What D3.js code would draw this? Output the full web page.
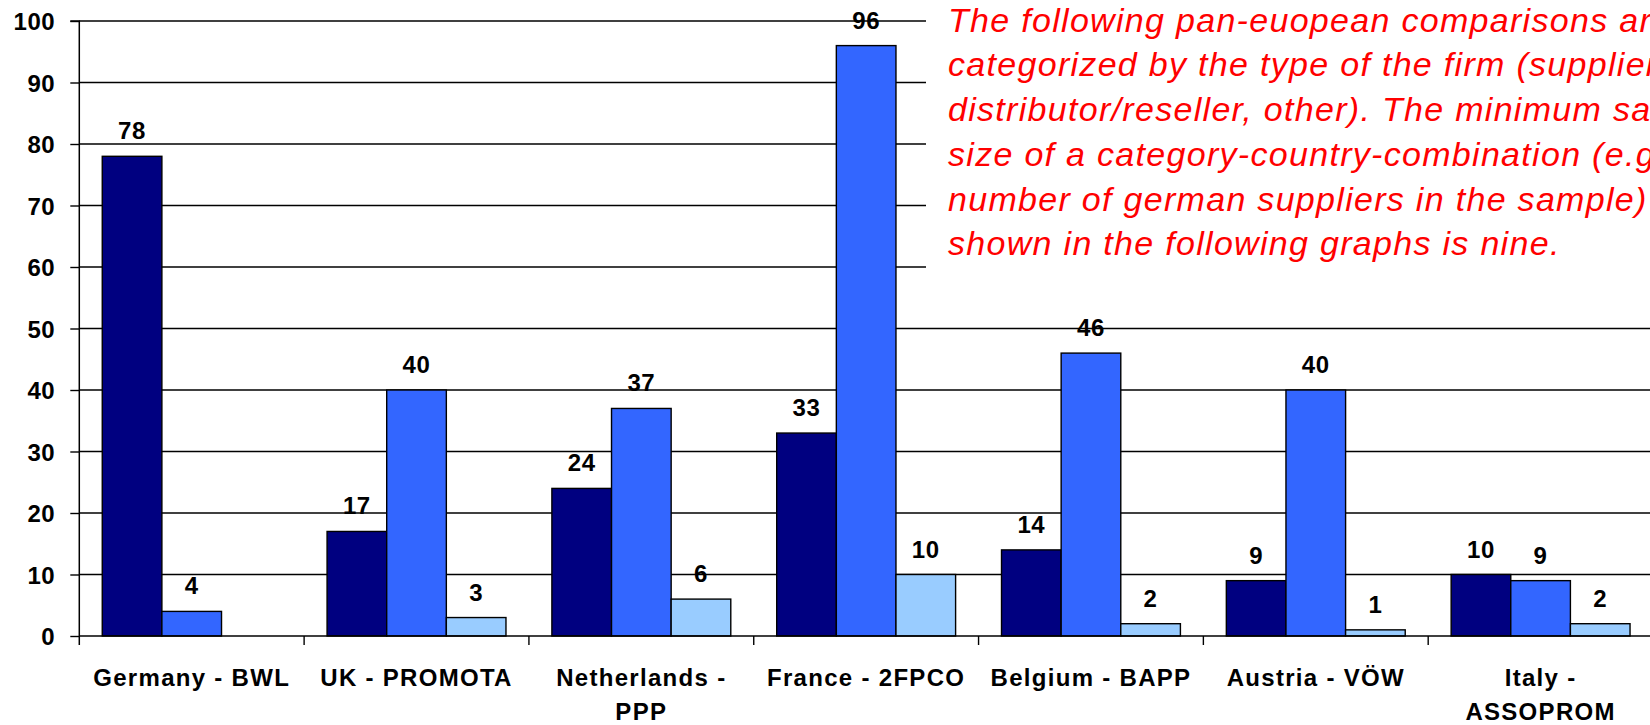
<!doctype html>
<html lang="en">

<head>
    <meta charset="UTF-8" />
    <title>Pan-European comparison</title>
    <script src="https://d3js.org/d3.v7.min.js"></script>
    <style>
        body,
        html {
            margin: 0;
            padding: 0;
            background: #ffffff;
            overflow: hidden;
        }

        svg {
            display: block;
        }

        .lbl {
            font-family: "Liberation Sans", Arial, sans-serif;
            font-weight: bold;
            font-size: 24px;
            fill: #000;
        }
    </style>
</head>

<body>
    <svg id="chart"></svg>
    <script>
        // chart values
        const categories = [
            ["Germany - BWL"],
            ["UK - PROMOTA"],
            ["Netherlands -", "PPP"],
            ["France - 2FPCO"],
            ["Belgium - BAPP"],
            ["Austria - VÖW"],
            ["Italy -", "ASSOPROM"]
        ];
        const suppliers = [78, 17, 24, 33, 14, 9, 10];
        const distributors = [4, 40, 37, 96, 46, 40, 9];
        const others = [null, 3, 6, 10, 2, 1, 2];
        const yTicks = [0, 10, 20, 30, 40, 50, 60, 70, 80, 90, 100];
        const noteLines = [
            "The following pan-euopean comparisons are",
            "categorized by the type of the firm (supplier,",
            "distributor/reseller, other). The minimum sample",
            "size of a category-country-combination (e.g.",
            "number of german suppliers in the sample)",
            "shown in the following graphs is nine."
        ];

        const width = 1650;
        const height = 725;
        const plotLeft = 79.3;
        const plotRight = 1653;
        const plotTop = 21;
        const plotBottom = 636;

        const svg = d3.select("#chart")
            .attr("width", width)
            .attr("height", height);

        const x = d3.scaleBand()
            .domain(d3.range(categories.length))
            .range([plotLeft, plotRight])
            .paddingInner(0)
            .paddingOuter(0);

        const barW = x.bandwidth() / 3.77;
        const groupOffset = (x.bandwidth() - barW * 3) / 2;

        const x1 = d3.scaleBand()
            .domain([0, 1, 2])
            .range([0, barW * 3]);

        const y = d3.scaleLinear().domain([0, 100]).range([plotBottom, plotTop]);

        const seriesColors = ["#000080", "#3366ff", "#99ccff"];
        const series = [suppliers, distributors, others];

        // gridlines
        svg.append("g")
            .selectAll("line")
            .data(yTicks.filter(d => d > 0))
            .join("line")
            .attr("x1", plotLeft)
            .attr("x2", width)
            .attr("y1", d => y(d))
            .attr("y2", d => y(d))
            .attr("stroke", "#000")
            .attr("stroke-width", 1.4);

        // bars
        series.forEach((vals, s) => {
            const data = vals.map((v, i) => ({ i, v })).filter(d => d.v != null);
            svg.append("g")
                .selectAll("rect")
                .data(data)
                .join("rect")
                .attr("x", d => x(d.i) + groupOffset + x1(s))
                .attr("y", d => y(d.v))
                .attr("width", x1.bandwidth())
                .attr("height", d => y(0) - y(d.v))
                .attr("fill", seriesColors[s])
                .attr("stroke", "#000")
                .attr("stroke-width", 1.4);
        });

        // y axis
        const yAxis = d3.axisLeft(y)
            .tickValues(yTicks)
            .tickSize(9)
            .tickPadding(15)
            .tickFormat(d3.format("d"));

        const gy = svg.append("g")
            .attr("transform", `translate(${plotLeft},0)`)
            .call(yAxis);
        gy.select(".domain").attr("stroke", "#000").attr("stroke-width", 1.5)
            .attr("d", `M-9,${plotTop}H0V${plotBottom + 9}`);
        gy.selectAll(".tick line").attr("stroke", "#000").attr("stroke-width", 1.4);
        gy.selectAll(".tick text")
            .attr("class", "lbl")
            .attr("dy", "0.36em")
            .style("letter-spacing", "0.6px");

        // x axis line with ticks between categories
        svg.append("line")
            .attr("x1", plotLeft)
            .attr("x2", width)
            .attr("y1", plotBottom)
            .attr("y2", plotBottom)
            .attr("stroke", "#000")
            .attr("stroke-width", 1.5);

        svg.append("g")
            .selectAll("line")
            .data(d3.range(1, categories.length))
            .join("line")
            .attr("x1", d => x(d))
            .attr("x2", d => x(d))
            .attr("y1", plotBottom)
            .attr("y2", plotBottom + 9)
            .attr("stroke", "#000")
            .attr("stroke-width", 1.4);

        // category labels
        const catG = svg.append("g");
        categories.forEach((lines, i) => {
            const t = catG.append("text")
                .attr("class", "lbl")
                .attr("text-anchor", "middle")
                .attr("x", x(i) + x.bandwidth() / 2)
                .attr("y", 686)
                .style("letter-spacing", "1.3px");
            lines.forEach((ln, k) => {
                t.append("tspan")
                    .attr("x", x(i) + x.bandwidth() / 2)
                    .attr("dy", k === 0 ? 0 : 34)
                    .text(ln);
            });
        });

        // white box behind the note
        svg.append("rect")
            .attr("x", 926)
            .attr("y", 0)
            .attr("width", width - 926)
            .attr("height", 292)
            .attr("fill", "#fff");

        // value labels
        series.forEach((vals, s) => {
            const data = vals.map((v, i) => ({ i, v })).filter(d => d.v != null);
            svg.append("g")
                .selectAll("text")
                .data(data)
                .join("text")
                .attr("class", "lbl")
                .attr("text-anchor", "middle")
                .attr("x", d => x(d.i) + groupOffset + x1(s) + x1.bandwidth() / 2)
                .attr("y", d => y(d.v) - 17)
                .style("letter-spacing", "0.6px")
                .text(d => d.v);
        });

        // note text, italic red
        svg.append("g")
            .selectAll("text")
            .data(noteLines)
            .join("text")
            .attr("x", 948)
            .attr("y", (d, i) => 31.7 + i * 44.7)
            .attr("font-family", "'Liberation Sans', Arial, sans-serif")
            .attr("font-style", "italic")
            .attr("font-size", 34)
            .style("letter-spacing", "1.3px")
            .attr("fill", "#ff0000")
            .text(d => d);
    </script>
</body>

</html>
